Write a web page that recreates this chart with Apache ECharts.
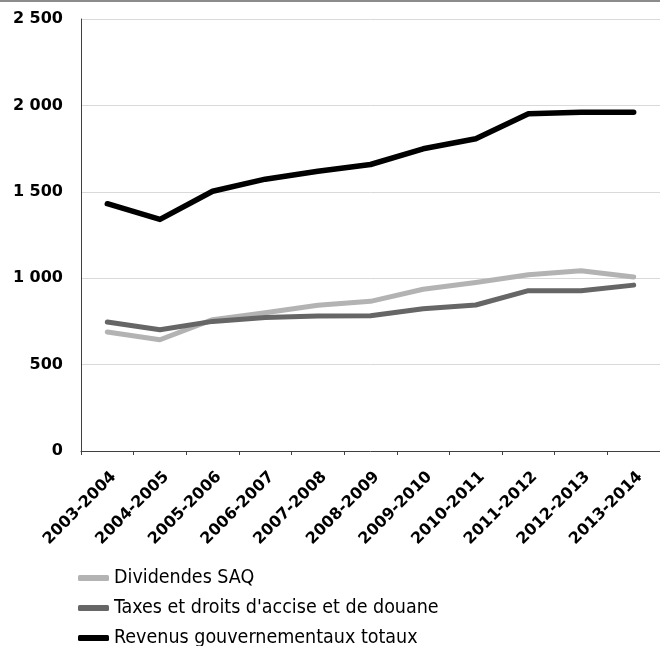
<!DOCTYPE html>
<html><head><meta charset="utf-8">
<script src="https://cdn.jsdelivr.net/npm/echarts@6/dist/echarts.min.js"></script>
<style>html,body{margin:0;padding:0;background:#fff}#c{width:660px;height:646px}</style>
</head><body><div id="c"></div>
<script>
const categories = ['2003-2004','2004-2005','2005-2006','2006-2007','2007-2008','2008-2009','2009-2010','2010-2011','2011-2012','2012-2013','2013-2014'];
const dividendes = [689, 644, 760, 800, 843, 866, 936, 975, 1020, 1043, 1007];
const taxes = [746, 702, 750, 773, 781, 783, 823, 845, 928, 928, 960];
const totaux = [1431, 1340, 1503, 1573, 1619, 1658, 1749, 1807, 1952, 1960, 1960];
const yTicks = { min: 0, max: 2500, interval: 500 };

const chart = echarts.init(document.getElementById('c'), null, {renderer:'canvas'});
const mk = (name, data, color, w) => ({
  name, type:'line', data, symbol:'none', smooth:false,
  lineStyle:{color, width:w, cap:'round', join:'round'}, itemStyle:{color},
  z: 2
});
chart.setOption({
  animation:false,
  graphic:[{type:'rect', shape:{x:0,y:0,width:660,height:2}, style:{fill:'#8c8c8c'}}],
  grid:{left:81, right:0, top:19, bottom:195},
  xAxis:{type:'category', data:categories, boundaryGap:true,
    axisLine:{lineStyle:{color:'#404040', width:1}},
    axisTick:{show:true, length:4, lineStyle:{color:'#404040'}},
    axisLabel:{rotate:45, margin:17, verticalAlign:'top', lineHeight:18, fontFamily:'DejaVu Sans', fontWeight:'bold', fontSize:16, color:'#000', interval:0}},
  yAxis:{type:'value', min:yTicks.min, max:yTicks.max, interval:yTicks.interval,
    axisLine:{show:true, lineStyle:{color:'#404040', width:1}},
    axisTick:{show:false},
    splitLine:{lineStyle:{color:'#d9d9d9', width:1}},
    axisLabel:{margin:18, fontFamily:'DejaVu Sans', fontWeight:'bold', fontSize:16, color:'#000',
      formatter:v => String(v).replace(/\B(?=(\d{3})+(?!\d))/g,' ')}},
  legend:{orient:'vertical', left:78, top:567, height:120, padding:0, itemWidth:31, itemHeight:6, itemGap:8, icon:'roundRect',
    textStyle:{fontFamily:'DejaVu Sans Condensed', fontSize:19.5, color:'#000', lineHeight:22},
    data:['Dividendes SAQ','Taxes et droits d\'accise et de douane','Revenus gouvernementaux totaux']},
  series:[
    mk('Dividendes SAQ', dividendes, '#b3b3b3', 5),
    mk('Taxes et droits d\'accise et de douane', taxes, '#666666', 5),
    mk('Revenus gouvernementaux totaux', totaux, '#000000', 5.5)
  ]
});
</script></body></html>
